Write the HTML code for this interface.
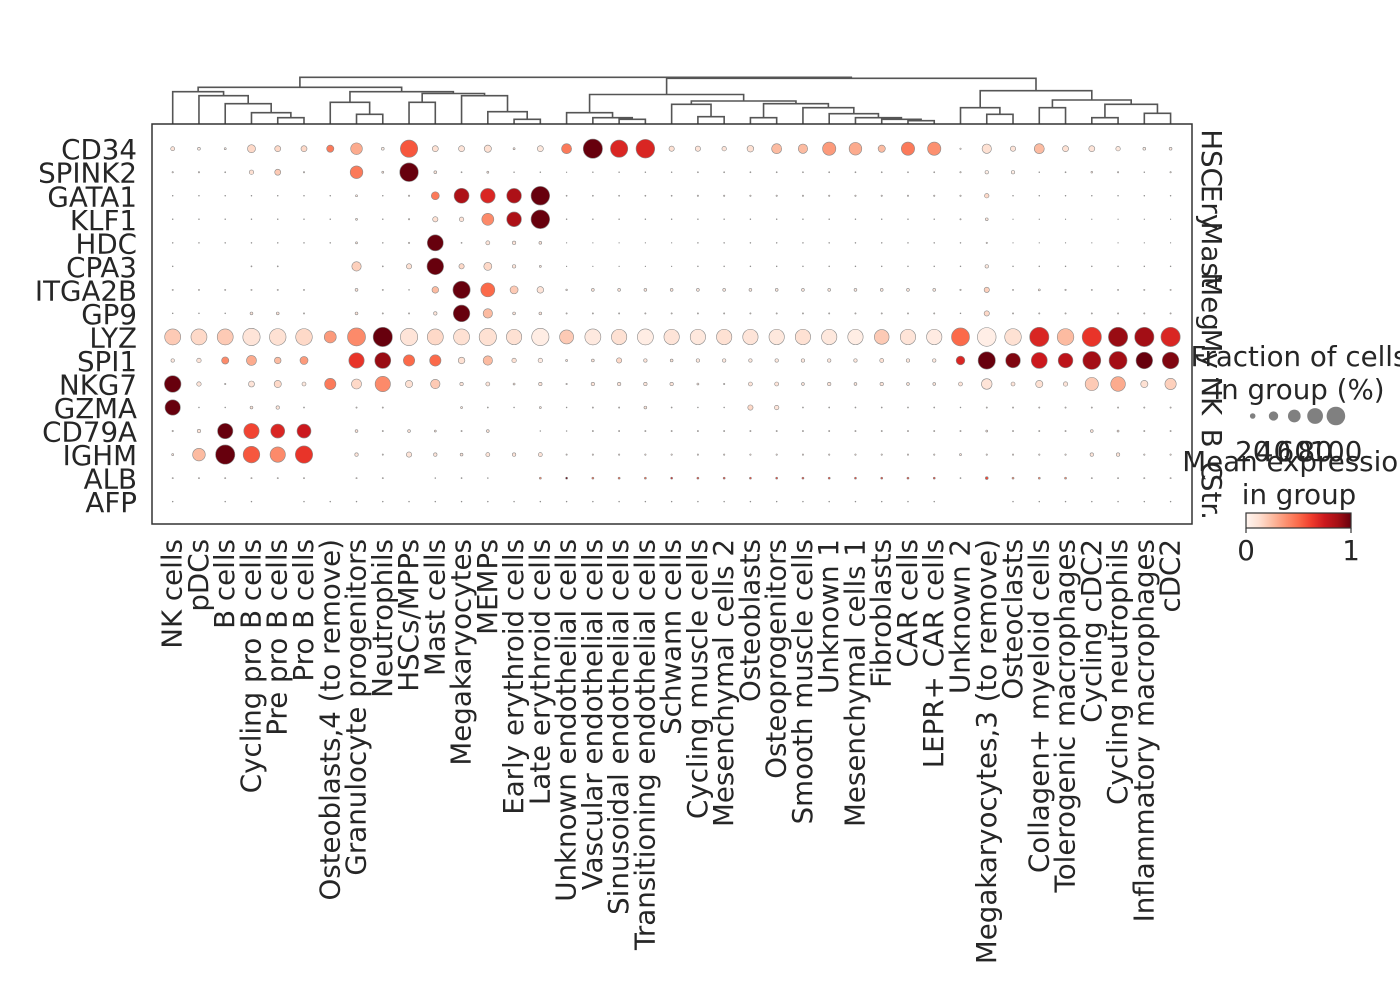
<!DOCTYPE html>
<html><head><meta charset="utf-8"><style>
html,body{margin:0;padding:0;background:#fff;}
svg{display:block;font-family:"DejaVu Sans","Liberation Sans",sans-serif;}
</style></head><body>
<svg id="chart" width="1400" height="1000" viewBox="0 0 1400 1000" xmlns="http://www.w3.org/2000/svg">
<rect x="0" y="0" width="1400" height="1000" fill="#fff"/>
<defs><linearGradient id="reds" x1="0" x2="1" y1="0" y2="0">
<stop offset="0" stop-color="#fff5f0"/><stop offset="0.125" stop-color="#fee0d2"/><stop offset="0.25" stop-color="#fcbba1"/><stop offset="0.375" stop-color="#fc9272"/><stop offset="0.5" stop-color="#fb6a4a"/><stop offset="0.625" stop-color="#ef3b2c"/><stop offset="0.75" stop-color="#cb181d"/><stop offset="0.875" stop-color="#a50f15"/><stop offset="1" stop-color="#67000d"/>
</linearGradient></defs>
<g id="dendro"></g>
<g id="dots"></g>
<rect x="152" y="124" width="1040" height="400" fill="none" stroke="#333" stroke-width="1.5"/>
<g id="rowlabels" font-size="27.7" fill="#262626" text-anchor="end"></g>
<g id="collabels" font-size="27.7" fill="#262626" text-anchor="end"></g>
<g id="groups" font-size="27.7" fill="#262626" text-anchor="middle"></g>
<g font-size="27.7" fill="#262626" text-anchor="middle">
<text x="1299" y="366">Fraction of cells</text>
<text x="1299" y="399">in group (%)</text>
<g id="sizeleg"></g>
</g>
<g font-size="27.7" fill="#262626" text-anchor="middle">
<text x="1299" y="471">Mean expression</text>
<text x="1299" y="504">in group</text>
<rect x="1246" y="513" width="105" height="15" fill="url(#reds)" stroke="#333" stroke-width="1.2"/>
<line x1="1246" y1="528" x2="1246" y2="533" stroke="#333" stroke-width="1.2"/>
<line x1="1351" y1="528" x2="1351" y2="533" stroke="#333" stroke-width="1.2"/>
<text x="1246" y="560">0</text>
<text x="1351" y="560">1</text>
</g>
</svg>
<script>
const categories=["NK cells","pDCs","B cells","Cycling pro B cells","Pre pro B cells","Pro B cells","Osteoblasts,4 (to remove)","Granulocyte progenitors","Neutrophils","HSCs/MPPs","Mast cells","Megakaryocytes","MEMPs","Early erythroid cells","Late erythroid cells","Unknown endothelial cells","Vascular endothelial cells","Sinusoidal endothelial cells","Transitioning endothelial cells","Schwann cells","Cycling muscle cells","Mesenchymal cells 2","Osteoblasts","Osteoprogenitors","Smooth muscle cells","Unknown 1","Mesenchymal cells 1","Fibroblasts","CAR cells","LEPR+ CAR cells","Unknown 2","Megakaryocytes,3 (to remove)","Osteoclasts","Collagen+ myeloid cells","Tolerogenic macrophages","Cycling cDC2","Cycling neutrophils","Inflammatory macrophages","cDC2"];
const genes=["CD34","SPINK2","GATA1","KLF1","HDC","CPA3","ITGA2B","GP9","LYZ","SPI1","NKG7","GZMA","CD79A","IGHM","ALB","AFP"];
const groupNames=["HSC","Ery","Mast","Meg","My","NK","B","C","Str."];
const groupRowCenters=[0.4,2.5,4.5,6.5,8.5,10.5,12.3,13.7,14.8];
const fracCD34=[.04,.02,.01,.16,.09,.09,.13,.34,.02,.75,.09,.09,.13,.01,.09,.25,.93,.75,.87,.07,.07,.05,.11,.25,.22,.44,.4,.13,.44,.44,.005,.22,.07,.25,.09,.09,.05,.02,.02];
const meanCD34=[.1,.05,.05,.15,.15,.15,.45,.3,.05,.55,.12,.1,.12,.1,.08,.45,1,.7,.7,.12,.1,.1,.12,.25,.25,.35,.3,.25,.45,.38,.1,.12,.1,.25,.12,.1,.08,.05,.05];
const fracSPINK2=[.005,.005,.003,.05,.09,.005,0,.4,.01,.87,.02,.003,.01,.002,.002,.001,.002,.002,.002,.002,.003,.003,.003,.003,.003,.003,.003,.003,.003,.003,.005,.03,.03,.002,.003,.008,.005,.002,.005];
const meanSPINK2=[.1,.1,.1,.12,.2,.1,0,.45,.1,1,.1,.1,.1,.1,.1,.1,.1,.1,.1,.1,.1,.1,.1,.1,.1,.1,.1,.1,.1,.1,.1,.05,.05,.1,.1,.1,.1,.1,.1];
const fracGATA1=[.002,.002,.002,.002,.002,.002,.002,.01,.002,.005,.16,.56,.54,.54,.87,.003,.003,.003,.003,.003,.005,.005,.005,.005,.005,.005,.005,.005,.005,.005,.005,.05,.002,.002,.002,.002,.002,.002,.002];
const meanGATA1=[.1,.1,.1,.1,.1,.1,.1,.1,.1,.1,.45,.85,.7,.85,1,.1,.1,.1,.1,.1,.1,.1,.1,.1,.1,.1,.1,.1,.1,.1,.1,.15,.1,.1,.1,.1,.1,.1,.1];
const fracKLF1=[.002,.002,.002,.002,.002,.002,.002,.01,.002,.005,.07,.05,.36,.54,.87,.002,.002,.002,.002,.002,.002,.002,.002,.002,.002,.002,.002,.002,.002,.002,.004,.02,.001,.001,.001,.001,.001,.001,.001];
const meanKLF1=[.1,.1,.1,.1,.1,.1,.1,.1,.1,.1,.12,.1,.4,.85,1,.1,.1,.1,.1,.1,.1,.1,.1,.1,.1,.1,.1,.1,.1,.1,.1,.1,.1,.1,.1,.1,.1,.1,.1];
const fracHDC=[.002,.002,.002,.002,.002,.002,.002,.01,.002,.005,.64,.003,.04,.03,.02,.001,.001,.001,.001,.001,.002,.002,.002,.002,.002,.002,.002,.002,.002,.002,.002,.005,.001,.001,.001,.001,.001,.001,.001];
const meanHDC=[.1,.1,.1,.1,.1,.1,.1,.1,.1,.1,1,.1,.1,.1,.1,.1,.1,.1,.1,.1,.1,.1,.1,.1,.1,.1,.1,.1,.1,.1,.1,.1,.1,.1,.1,.1,.1,.1,.1];
const fracCPA3=[.002,0,0,.003,.003,0,0,.22,.003,.07,.69,.07,.16,.03,.01,.001,.001,.001,.001,.001,.002,.002,.002,.002,.002,.002,.002,.002,.002,.002,.002,.03,.002,.002,.002,.002,.002,.002,.002];
const meanCPA3=[.1,0,0,.1,.1,0,0,.18,.1,.12,1,.15,.15,.1,.1,.1,.1,.1,.1,.1,.1,.1,.1,.1,.1,.1,.1,.1,.1,.1,.1,.08,.1,.1,.1,.1,.1,.1,.1];
const fracITGA2B=[.004,.004,.004,.004,.004,.004,0,.02,.004,.002,.11,.75,.49,.16,.11,.007,.02,.02,.02,.02,.02,.02,.02,.02,.02,.02,.02,.02,.02,.02,.005,.07,.004,.01,.005,.004,.004,.004,.004];
const meanITGA2B=[.1,.1,.1,.1,.1,.1,0,.1,.1,.1,.25,1,.5,.2,.1,.1,.1,.1,.1,.1,.08,.08,.08,.08,.08,.08,.08,.08,.08,.08,.1,.18,.1,.1,.1,.1,.1,.1,.1];
const fracGP9=[.002,.002,.002,.02,.02,.004,0,.02,.004,.004,.03,.69,.22,.02,.02,.004,.004,.004,.004,.004,.004,.004,.004,.004,.004,.004,.004,.004,.004,.004,.002,.07,.004,.004,.004,.004,.004,.004,.004];
const meanGP9=[.1,.1,.1,.1,.1,.1,0,.1,.1,.1,.1,1,.25,.1,.1,.1,.1,.1,.1,.1,.1,.1,.1,.1,.1,.1,.1,.1,.1,.1,.1,.15,.1,.1,.1,.1,.1,.1,.1];
const fracLYZ=[.64,.64,.64,.75,.69,.69,.36,.81,.93,.75,.64,.64,.75,.59,.75,.49,.64,.59,.64,.59,.59,.59,.59,.59,.59,.59,.59,.54,.59,.59,.81,.87,.69,.93,.69,.93,.93,.93,.93];
const meanLYZ=[.2,.15,.2,.1,.12,.15,.35,.4,1,.1,.15,.12,.12,.12,.05,.2,.07,.12,.05,.1,.08,.12,.1,.08,.12,.08,.05,.2,.1,.06,.5,.04,.12,.7,.25,.65,.9,.88,.7];
const fracSPI1=[.03,.05,.13,.25,.11,.16,0,.59,.64,.32,.32,.11,.22,.05,.05,.01,.02,.07,.03,.02,.03,.03,.03,.03,.03,.03,.03,.04,.03,.03,.19,.75,.54,.64,.54,.81,.81,.69,.69];
const meanSPI1=[.08,.1,.4,.3,.25,.35,0,.65,.9,.5,.5,.12,.25,.12,.06,.1,.1,.15,.1,.1,.08,.08,.08,.08,.08,.08,.08,.12,.08,.08,.7,1,.95,.75,.8,.88,.88,1,.95];
const fracNKG7=[.69,.05,.005,.09,.13,.04,.32,.25,.59,.13,.22,.03,.04,.01,.03,.005,.03,.03,.03,.03,.01,.005,.04,.04,.02,.03,.02,.03,.02,.02,.04,.28,.04,.13,.05,.44,.54,.13,.32];
const meanNKG7=[1,.1,.1,.1,.15,.08,.45,.15,.4,.12,.2,.1,.1,.1,.1,.1,.1,.1,.1,.1,.1,.1,.1,.1,.1,.1,.1,.1,.1,.1,.1,.1,.1,.12,.1,.2,.3,.12,.18];
const fracGZMA=[.59,.002,.002,.02,.03,.003,0,.004,.004,0,0,.01,.003,.002,.01,.002,.004,.004,.02,.003,.002,.002,.07,.05,.003,.003,.003,.003,.003,.003,.002,.004,.004,.004,.004,.004,.004,.004,.004];
const meanGZMA=[1,.1,.1,.1,.1,.1,0,.1,.1,0,0,.1,.1,.1,.1,.1,.1,.1,.1,.1,.1,.1,.15,.1,.1,.1,.1,.1,.1,.1,.1,.1,.1,.1,.1,.1,.1,.1,.1];
const fracCD79A=[.005,.03,.59,.59,.49,.49,0,.02,.004,.02,.01,.004,.02,0,.002,.002,.004,.004,.004,.004,.004,.004,.004,.004,.004,.004,.004,.004,.004,.004,.004,.01,.004,.004,.004,.02,.01,.004,.004];
const meanCD79A=[.1,.1,1,.6,.7,.75,0,.1,.1,.1,.1,.1,.1,0,.1,.1,.1,.1,.1,.1,.1,.1,.1,.1,.1,.1,.1,.1,.1,.1,.1,.1,.1,.1,.1,.1,.1,.1,.1];
const fracIGHM=[.01,.4,.93,.69,.59,.75,0,.03,.004,.07,.03,.02,.04,.03,.04,.004,.005,.005,.005,.005,.005,.005,.005,.005,.005,.005,.005,.005,.005,.005,.01,.005,.005,.005,.005,.03,.03,.005,.005];
const meanIGHM=[.1,.25,1,.55,.4,.65,0,.1,.1,.1,.1,.1,.1,.1,.1,.1,.1,.1,.1,.1,.1,.1,.1,.1,.1,.1,.1,.1,.1,.1,.1,.1,.1,.1,.1,.1,.1,.1,.1];
const fracALB=[.004,.004,.004,.004,.004,.004,0,.004,.004,0,.002,.003,.002,0,.01,.01,.01,.01,.01,.01,.01,.01,.01,.01,.01,.01,.01,.01,.01,.01,.003,.02,.01,.01,.01,.004,.004,.004,.004];
const meanALB=[.1,.1,.1,.1,.1,.1,0,.1,.1,0,.1,.1,.1,0,.4,1,.5,.5,.5,.7,.6,.6,.6,.6,.6,.6,.6,.6,.6,.6,.1,.6,.4,.4,.4,.1,.1,.1,.1];
const fracAFP=[.002,0,.002,.002,0,.002,.002,.002,.002,.002,.002,.002,.002,.002,.002,.002,.002,.002,.002,.002,.002,.002,.002,.002,.002,.002,.002,.002,.002,.002,0,0,.002,.002,.002,.002,.002,.002,.002];
const meanAFP=[.1,0,.1,.1,0,.1,.1,.1,.1,.1,.1,.1,.1,.1,.1,.1,.1,.1,.1,.1,.1,.1,.1,.1,.1,.1,.1,.1,.1,.1,0,0,.1,.1,.1,.1,.1,.1,.1];
const sizeLegendTicks=[20,40,60,80,100];
const mergeLeft=[4,3,2,1,0,7,6,9,13,12,11,46,45,43,17,16,15,20,19,22,28,27,26,25,24,58,57,55,31,30,33,35,37,70,69,68,66,52];
const mergeRight=[5,39,40,41,42,8,44,10,14,47,48,49,50,51,18,53,54,21,56,23,29,59,60,61,62,63,64,65,32,67,34,36,38,71,72,73,74,75];
const mergeHeight=[117.7,112.7,103.7,95.7,91.7,114.3,102.3,102.3,119.3,111.7,95.7,93.5,91.7,87.3,119.3,117.7,112.7,116.7,104.3,117.7,120.7,119.3,117.7,113.7,107.7,103.7,101,94.5,114.3,107.7,107.7,117.7,113.3,104.3,100,90.7,78.3,77.3];

const fracRows=[fracCD34,fracSPINK2,fracGATA1,fracKLF1,fracHDC,fracCPA3,fracITGA2B,fracGP9,fracLYZ,fracSPI1,fracNKG7,fracGZMA,fracCD79A,fracIGHM,fracALB,fracAFP];
const meanRows=[meanCD34,meanSPINK2,meanGATA1,meanKLF1,meanHDC,meanCPA3,meanITGA2B,meanGP9,meanLYZ,meanSPI1,meanNKG7,meanGZMA,meanCD79A,meanIGHM,meanALB,meanAFP];

const NS="http://www.w3.org/2000/svg";
function xScale(k){return 172.7+26.26*k;}
function yScale(i){return 148.7+23.53*i;}
function rScale(f){return 10*Math.sqrt(f);}
const stops=[[255,245,240],[254,224,210],[252,187,161],[252,146,114],[251,106,74],[239,59,44],[203,24,29],[165,15,21],[103,0,13]];
function colorScale(v){v=Math.max(0,Math.min(1,v));const p=v*8,i=Math.min(7,Math.floor(p)),t=p-i;const a=stops[i],b=stops[i+1];return "rgb("+a.map((c,j)=>Math.round(c+(b[j]-c)*t)).join(",")+")";}
function mk(tag,attrs,parent){const e=document.createElementNS(NS,tag);for(const k in attrs)e.setAttribute(k,attrs[k]);parent.appendChild(e);return e;}

const dots=document.getElementById("dots");
for(let i=0;i<genes.length;i++){for(let k=0;k<categories.length;k++){
  const f=fracRows[i][k];if(!(f>0))continue;
  const c=mk("circle",{cx:xScale(k),cy:yScale(i),r:rScale(f),fill:colorScale(meanRows[i][k]),stroke:"#8a8a8a","stroke-width":0.6},dots);
  
  
}}
const rl=document.getElementById("rowlabels");
genes.forEach((g,i)=>{const t=mk("text",{x:137,y:yScale(i)+10.5},rl);t.textContent=g;
  
  });
const cl=document.getElementById("collabels");
categories.forEach((c,k)=>{const x=xScale(k)+9;const t=mk("text",{x:x,y:539,transform:"rotate(-90 "+x+" 539)"},cl);t.textContent=c;
  
  });
const gl=document.getElementById("groups");
groupNames.forEach((g,j)=>{const y=yScale(groupRowCenters[j]);const t=mk("text",{x:1202,y:y,transform:"rotate(90 1202 "+y+")"},gl);t.textContent=g;
  
  });
const dg=document.getElementById("dendro");
const nodeX=categories.map((c,k)=>xScale(k)),nodeY=categories.map(()=>124);
for(let m=0;m<mergeLeft.length;m++){
  const a=mergeLeft[m],b=mergeRight[m],h=mergeHeight[m];
  const p=mk("path",{d:"M"+nodeX[a]+","+nodeY[a]+"V"+h+"H"+nodeX[b]+"V"+nodeY[b],fill:"none",stroke:"#555","stroke-width":1.6},dg);
  
  
  nodeX.push((nodeX[a]+nodeX[b])/2);nodeY.push(h);
}
const sl=document.getElementById("sizeleg");
sizeLegendTicks.forEach((v,j)=>{const x=1252.7+20.8*j;
  const c=mk("circle",{cx:x,cy:416,r:9.3*Math.pow(v/100,0.75),fill:"#808080"},sl);
  
  
  const t=mk("text",{x:x,y:461},sl);t.textContent=v;
  
  });
</script>
</body></html>
